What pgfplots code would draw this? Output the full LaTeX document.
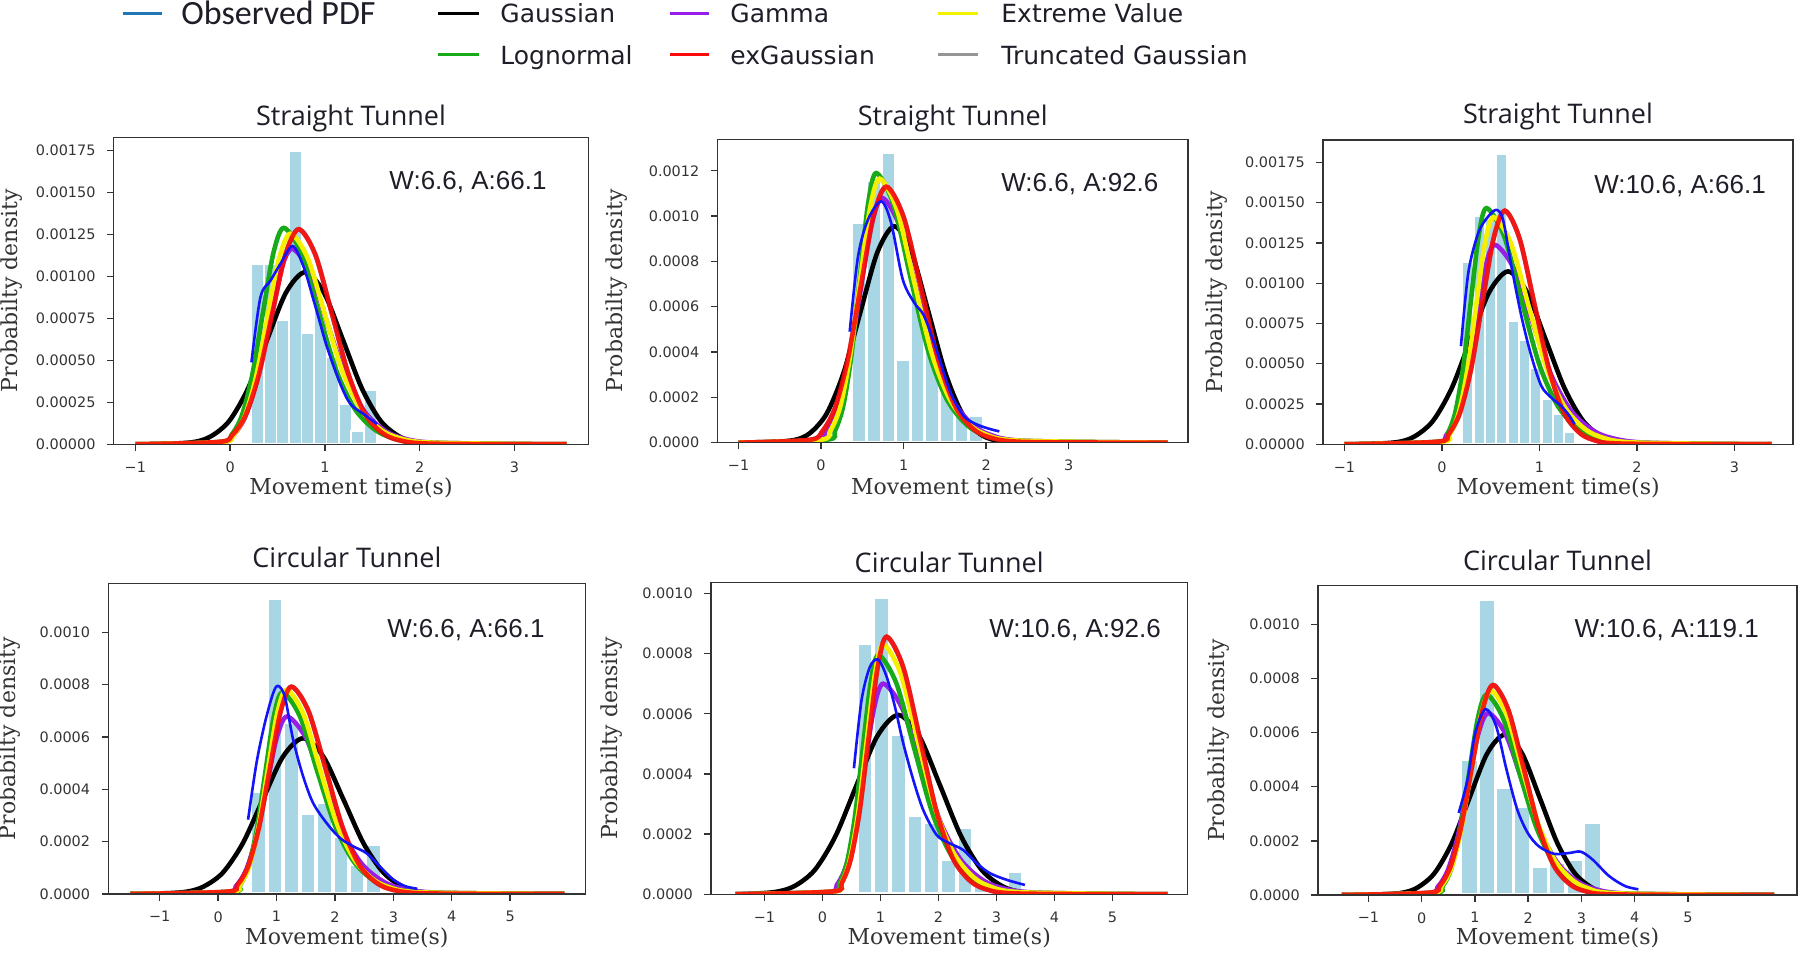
\documentclass[border=0pt]{standalone}
\usepackage{fontspec}
\setmainfont{DejaVu Sans}
\newfontfamily\serifl{DejaVu Serif}
\newfontfamily\opensans{Open Sans}
\newfontfamily\libsans{Liberation Sans}
\newfontfamily\carlito{Carlito}
\usepackage{pgfplots}
\usepackage{pgfplotstable}
\pgfplotsset{compat=1.18}

\definecolor{histblue}{RGB}{168,214,228}
\definecolor{cgreen}{RGB}{25,170,25}
\definecolor{cyellow}{RGB}{245,240,0}
\definecolor{cpurple}{RGB}{150,30,230}
\definecolor{cred}{RGB}{250,10,10}
\definecolor{cblue}{RGB}{20,20,250}
\definecolor{cgray}{RGB}{150,150,150}
\definecolor{obsblue}{RGB}{31,119,180}
\definecolor{txt}{RGB}{30,30,40}

\tikzset{annot/.style={anchor=east, inner sep=0pt, font=\libsans\fontsize{13}{15}\selectfont, text=txt}}

\pgfplotsset{
  panel/.style={
    scale only axis, axis on top, enlargelimits=false, clip=true,
    anchor=south west,
    axis line style={black!80, line width=0.7pt},
    tick style={black!80, line width=0.7pt},
    tick align=outside, major tick length=3.3pt,
    xtick pos=left, ytick pos=left,
    ticklabel style={font=\fontsize{7.2}{8.6}\selectfont, text=black!80},
    xticklabel style={yshift=-1.9pt},
    yticklabel style={xshift=-2.3pt},
    xlabel={Movement time(s)}, ylabel={Probabilty density},
    label style={font=\serifl\fontsize{11}{13}\selectfont, text=black!80},
    title style={font=\opensans\fontsize{13.5}{16}\selectfont, text=txt, anchor=center},
    ymin=0,
  },
  fblack/.style={draw=black, line width=2.3pt, smooth},
  fgreen/.style={draw=cgreen, line width=2.3pt, smooth},
  fyellow/.style={draw=cyellow, line width=2.3pt, smooth},
  fred/.style={draw=cred, line width=2.3pt, smooth, opacity=0.9},
  fpurple/.style={draw=cpurple, line width=2.3pt, smooth},
  fgray/.style={draw=cgray, line width=2.3pt, smooth},
  fblue/.style={draw=cblue, line width=1.3pt, smooth},
  hist/.style={ybar, bar shift=0pt, fill=histblue, draw=white},
}

\pgfplotstableread{
x y
-1 0
-0.116 0.0141
0.024 0.0563
0.164 0.173
0.304 0.416
0.444 0.777
0.584 1.129
0.724 1.28
0.899 1.129
1.074 0.777
1.249 0.416
1.424 0.179
1.599 0.0704
1.774 0.0256
2.124 0.0038
3.55 0
}\redA
\pgfplotstableread{
x y
-1 0
-0.141 0.0124
0.014 0.0497
0.169 0.153
0.324 0.367
0.479 0.686
0.634 0.997
0.789 1.13
0.999 0.997
1.209 0.686
1.419 0.367
1.629 0.158
1.839 0.0622
2.049 0.0226
2.469 0.0034
4.2 0
}\redB
\pgfplotstableread{
x y
-1 0
-0.045 0.016
0.07 0.0638
0.185 0.196
0.3 0.471
0.415 0.880
0.53 1.279
0.645 1.45
0.795 1.279
0.945 0.880
1.095 0.471
1.245 0.203
1.395 0.0798
1.545 0.029
1.845 0.0044
3.38 0
}\redC
\pgfplotstableread{
x y
-1.5 0
0.147 0.0087
0.332 0.0348
0.517 0.107
0.702 0.257
0.887 0.481
1.072 0.699
1.257 0.792
1.547 0.699
1.837 0.481
2.127 0.257
2.417 0.111
2.707 0.0436
2.997 0.0158
3.577 0.0024
5.93 0
}\redD
\pgfplotstableread{
x y
-1.5 0
0.177 0.0094
0.332 0.0377
0.487 0.116
0.642 0.278
0.797 0.520
0.952 0.755
1.107 0.856
1.392 0.755
1.677 0.520
1.962 0.278
2.247 0.120
2.532 0.0471
2.817 0.0171
3.387 0.0026
5.95 0
}\redE
\pgfplotstableread{
x y
-1.5 0
0.142 0.0085
0.342 0.0341
0.542 0.105
0.742 0.252
0.942 0.471
1.142 0.684
1.342 0.776
1.627 0.684
1.912 0.471
2.197 0.252
2.482 0.109
2.767 0.0427
3.052 0.0155
3.622 0.0023
6.62 0
}\redF

\begin{document}
\begin{tikzpicture}
\path[use as bounding box] (0pt,0pt) rectangle (900pt,476.5pt);

% ---------------- Panel 1 ----------------
\begin{axis}[panel, at={(56.85pt,254.35pt)}, width=237.25pt, height=153.5pt,
  xmin=-1.228, xmax=3.778, ymax=1.827,
  xtick={-1,0,1,2,3}, xticklabels={−1,0,1,2,3},
  ytick={0,0.25,0.5,0.75,1,1.25,1.5,1.75},
  yticklabels={0.00000,0.00025,0.00050,0.00075,0.00100,0.00125,0.00150,0.00175},
  title={Straight Tunnel}, title style={at={(0.5,1.078)}, yshift=-8.6pt},
  xlabel style={at={(axis description cs:0.5,-0.142)}, anchor=center},
  ylabel style={at={(axis description cs:-0.2154,0.5)}, anchor=center}]
\addplot[hist, bar width=0.1318, line width=0.85pt] coordinates {(0.291,1.074) (0.423,1.074) (0.555,0.736) (0.686,1.743) (0.818,0.66) (0.950,0.82) (1.082,0.52) (1.214,0.24) (1.345,0.08) (1.477,0.323)};
\addplot[fgray] table {\redA};
\addplot[fblack] coordinates {(-1,0) (-0.81,0.0003) (-0.41,0.0113) (-0.21,0.045) (-0.01,0.138) (0.19,0.333) (0.39,0.622) (0.59,0.903) (0.79,1.024) (0.99,0.903) (1.19,0.622) (1.39,0.333) (1.59,0.138) (1.79,0.045) (1.99,0.0113) (2.39,0.0003) (3.55,0)};
\addplot[fpurple] coordinates {(-1,0) (-0.096,0.0128) (0.029,0.0512) (0.154,0.157) (0.279,0.378) (0.404,0.706) (0.529,1.026) (0.654,1.163) (0.844,1.026) (1.034,0.706) (1.224,0.395) (1.414,0.198) (1.604,0.093) (1.794,0.0407) (2.174,0.0093) (3.55,0)};
\addplot[fgreen] coordinates {(-1,0) (-0.094,0.0142) (0.016,0.0567) (0.126,0.174) (0.236,0.419) (0.346,0.782) (0.456,1.136) (0.566,1.288) (0.751,1.136) (0.936,0.782) (1.121,0.438) (1.306,0.219) (1.491,0.103) (1.676,0.0451) (2.046,0.0103) (3.55,0)};
\addplot[fyellow] coordinates {(-1,0) (-0.084,0.0138) (0.036,0.0551) (0.156,0.169) (0.276,0.407) (0.396,0.761) (0.516,1.105) (0.636,1.253) (0.821,1.105) (1.006,0.761) (1.191,0.426) (1.376,0.213) (1.561,0.100) (1.746,0.0439) (2.116,0.0100) (3.55,0)};
\addplot[fred] table {\redA};
\addplot[fblue] coordinates {(0.225,0.4875) (0.32,0.875) (0.426,0.974) (0.531,1.074) (0.66,1.18) (0.777,1.054) (0.882,0.855) (0.95,0.72) (1.023,0.577) (1.163,0.359) (1.269,0.24) (1.409,0.18) (1.55,0.12)};
\node[annot] at (rel axis cs:0.913,0.855) {W:6.6, A:66.1};
\end{axis}

% ---------------- Panel 2 ----------------
\begin{axis}[panel, at={(358.75pt,255.15pt)}, width=235.25pt, height=151.7pt,
  xmin=-1.255, xmax=4.446, ymax=1.339,
  xtick={-1,0,1,2,3}, xticklabels={−1,0,1,2,3},
  ytick={0,0.2,0.4,0.6,0.8,1.0,1.2},
  yticklabels={0.0000,0.0002,0.0004,0.0006,0.0008,0.0010,0.0012},
  title={Straight Tunnel}, title style={at={(0.5,1.086)}, yshift=-8.6pt},
  xlabel style={at={(axis description cs:0.5,-0.150)}, anchor=center},
  ylabel style={at={(axis description cs:-0.2136,0.5)}, anchor=center}]
\addplot[hist, bar width=0.1767, line width=1.5pt] coordinates {(0.463,0.972) (0.640,1.157) (0.817,1.281) (0.993,0.367) (1.170,0.669) (1.347,0.44) (1.524,0.25) (1.700,0.12) (1.877,0.12)};
\addplot[fgray] table {\redB};
\addplot[fblack] coordinates {(-1,0) (-0.751,0.0003) (-0.341,0.0105) (-0.136,0.042) (0.069,0.129) (0.274,0.310) (0.479,0.580) (0.684,0.842) (0.889,0.955) (1.094,0.842) (1.299,0.580) (1.504,0.310) (1.709,0.129) (1.914,0.042) (2.119,0.0105) (2.529,0.0003) (4.2,0)};
\addplot[fpurple] coordinates {(-1,0) (-0.07,0.0119) (0.065,0.0475) (0.2,0.146) (0.335,0.351) (0.47,0.656) (0.605,0.953) (0.74,1.08) (0.955,0.953) (1.17,0.656) (1.385,0.367) (1.6,0.184) (1.815,0.0864) (2.03,0.0378) (2.46,0.0086) (4.2,0)};
\addplot[fgreen] coordinates {(-1,0) (0.068,0.0131) (0.168,0.0524) (0.268,0.161) (0.368,0.387) (0.468,0.722) (0.568,1.050) (0.668,1.19) (0.878,1.050) (1.088,0.722) (1.298,0.405) (1.508,0.202) (1.718,0.0952) (1.928,0.0417) (2.348,0.0095) (4.2,0)};
\addplot[fyellow] coordinates {(-1,0) (-0.01,0.0128) (0.11,0.0513) (0.23,0.157) (0.35,0.379) (0.47,0.707) (0.59,1.028) (0.71,1.165) (0.92,1.028) (1.13,0.707) (1.34,0.396) (1.55,0.198) (1.76,0.0932) (1.97,0.0408) (2.39,0.0093) (4.2,0)};
\addplot[fred] table {\redB};
\addplot[fblue] coordinates {(0.347,0.49) (0.447,0.82) (0.568,0.984) (0.729,1.065) (0.849,0.97) (0.99,0.72) (1.13,0.617) (1.25,0.558) (1.41,0.397) (1.57,0.22) (1.73,0.117) (1.89,0.08) (2.05,0.06) (2.16,0.05)};
\node[annot] at (rel axis cs:0.938,0.853) {W:6.6, A:92.6};
\end{axis}

% ---------------- Panel 3 ----------------
\begin{axis}[panel, at={(661.5pt,254.35pt)}, width=235pt, height=152.15pt,
  xmin=-1.219, xmax=3.599, ymax=1.889,
  xtick={-1,0,1,2,3}, xticklabels={−1,0,1,2,3},
  ytick={0,0.25,0.5,0.75,1,1.25,1.5,1.75},
  yticklabels={0.00000,0.00025,0.00050,0.00075,0.00100,0.00125,0.00150,0.00175},
  title={Straight Tunnel}, title style={at={(0.5,1.093)}, yshift=-8.6pt},
  xlabel style={at={(axis description cs:0.5,-0.1446)}, anchor=center},
  ylabel style={at={(axis description cs:-0.2255,0.5)}, anchor=center}]
\addplot[hist, bar width=0.1158, line width=1.15pt] coordinates {(0.267,1.135) (0.383,1.418) (0.499,1.40) (0.614,1.806) (0.730,0.764) (0.846,0.65) (0.962,0.475) (1.078,0.283) (1.193,0.186) (1.309,0.08)};
\addplot[fgray] table {\redC};
\addplot[fblack] coordinates {(-1,0) (-0.862,0.0003) (-0.477,0.0118) (-0.285,0.0472) (-0.092,0.145) (0.101,0.349) (0.293,0.651) (0.486,0.946) (0.678,1.073) (0.871,0.946) (1.063,0.651) (1.256,0.349) (1.448,0.145) (1.641,0.0472) (1.833,0.0118) (2.218,0.0003) (3.38,0)};
\addplot[fpurple] coordinates {(-1,0) (-0.058,0.0136) (0.042,0.0545) (0.142,0.167) (0.242,0.402) (0.342,0.751) (0.442,1.092) (0.542,1.238) (0.737,1.092) (0.932,0.751) (1.127,0.421) (1.322,0.210) (1.517,0.099) (1.712,0.0433) (2.102,0.0099) (3.38,0)};
\addplot[fgreen] coordinates {(-1,0) (-0.023,0.0161) (0.057,0.0645) (0.137,0.198) (0.217,0.476) (0.297,0.890) (0.377,1.293) (0.457,1.466) (0.637,1.293) (0.817,0.890) (0.997,0.498) (1.177,0.249) (1.357,0.117) (1.537,0.0513) (1.897,0.0117) (3.38,0)};
\addplot[fyellow] coordinates {(-1,0) (-0.01,0.0155) (0.08,0.062) (0.17,0.190) (0.26,0.458) (0.35,0.856) (0.44,1.244) (0.53,1.41) (0.71,1.244) (0.89,0.856) (1.07,0.479) (1.25,0.240) (1.43,0.113) (1.61,0.0494) (1.97,0.0113) (3.38,0)};
\addplot[fred] table {\redC};
\addplot[fblue] coordinates {(0.195,0.609) (0.27,1.063) (0.372,1.311) (0.474,1.414) (0.56,1.455) (0.627,1.393) (0.713,1.104) (0.815,0.794) (0.917,0.547) (1.02,0.361) (1.122,0.289) (1.224,0.237) (1.309,0.175) (1.36,0.124)};
\node[annot] at (rel axis cs:0.943,0.849) {W:10.6, A:66.1};
\end{axis}

% ---------------- Panel 4 ----------------
\begin{axis}[panel, at={(54.15pt,29.5pt)}, width=238.6pt, height=155.35pt,
  xmin=-1.88, xmax=6.29, ymax=1.187,
  xtick={-1,0,1,2,3,4,5}, xticklabels={−1,0,1,2,3,4,5},
  ytick={0,0.2,0.4,0.6,0.8,1.0},
  yticklabels={0.0000,0.0002,0.0004,0.0006,0.0008,0.0010},
  title={Circular Tunnel}, title style={at={(0.5,1.091)}, yshift=-7pt},
  xlabel style={at={(axis description cs:0.5,-0.1426)}, anchor=center},
  ylabel style={at={(axis description cs:-0.2068,0.5)}, anchor=center}]
\addplot[hist, bar width=0.281, line width=2pt] coordinates {(0.695,0.392) (0.976,1.13) (1.257,0.659) (1.537,0.311) (1.818,0.353) (2.099,0.22) (2.380,0.116) (2.661,0.192)};
\addplot[fgray] table {\redD};
\addplot[fblack] coordinates {(-1.5,0) (-1.304,0.0002) (-0.614,0.0065) (-0.269,0.0262) (0.076,0.0803) (0.421,0.193) (0.766,0.361) (1.111,0.525) (1.456,0.595) (1.801,0.525) (2.146,0.361) (2.491,0.193) (2.836,0.0803) (3.181,0.0262) (3.526,0.0065) (4.216,0.0002) (5.93,0)};
\addplot[fpurple] coordinates {(-1.5,0) (0.13,0.0075) (0.305,0.0298) (0.48,0.0915) (0.655,0.220) (0.83,0.412) (1.005,0.598) (1.18,0.678) (1.5,0.598) (1.82,0.412) (2.14,0.231) (2.46,0.115) (2.78,0.0542) (3.1,0.0237) (3.74,0.0054) (5.93,0)};
\addplot[fgreen] coordinates {(-1.5,0) (0.23,0.0085) (0.375,0.0339) (0.52,0.104) (0.665,0.250) (0.81,0.467) (0.955,0.679) (1.1,0.77) (1.4,0.679) (1.7,0.467) (2.0,0.262) (2.3,0.131) (2.6,0.0616) (2.9,0.027) (3.5,0.0062) (5.93,0)};
\addplot[fyellow] coordinates {(-1.5,0) (0.21,0.0086) (0.37,0.0343) (0.53,0.105) (0.69,0.254) (0.85,0.473) (1.01,0.688) (1.17,0.78) (1.46,0.688) (1.75,0.473) (2.04,0.265) (2.33,0.133) (2.62,0.0624) (2.91,0.0273) (3.49,0.0062) (5.93,0)};
\addplot[fred] table {\redD};
\addplot[fblue] coordinates {(0.513,0.284) (0.657,0.5) (0.8,0.653) (0.942,0.767) (1.027,0.795) (1.142,0.754) (1.285,0.589) (1.456,0.449) (1.628,0.347) (1.857,0.271) (2.086,0.214) (2.314,0.182) (2.54,0.156) (2.77,0.105) (3.0,0.055) (3.2,0.03) (3.41,0.02)};
\node[annot] at (rel axis cs:0.915,0.85) {W:6.6, A:66.1};
\end{axis}

% ---------------- Panel 5 ----------------
\begin{axis}[panel, at={(355.5pt,29.35pt)}, width=238.2pt, height=156pt,
  xmin=-1.92, xmax=6.29, ymax=1.037,
  xtick={-1,0,1,2,3,4,5}, xticklabels={−1,0,1,2,3,4,5},
  ytick={0,0.2,0.4,0.6,0.8,1.0},
  yticklabels={0.0000,0.0002,0.0004,0.0006,0.0008,0.0010},
  title={Circular Tunnel}, title style={at={(0.5,1.071)}, yshift=-7pt},
  xlabel style={at={(axis description cs:0.5,-0.141)}, anchor=center},
  ylabel style={at={(axis description cs:-0.2089,0.5)}, anchor=center}]
\addplot[hist, bar width=0.287, line width=2pt] coordinates {(0.734,0.836) (1.021,0.987) (1.308,0.533) (1.594,0.262) (1.881,0.24) (2.168,0.116) (2.455,0.225) (2.742,0.04) (3.317,0.078)};
\addplot[fgray] table {\redE};
\addplot[fblack] coordinates {(-1.5,0) (-0.853,0.0066) (-0.493,0.0262) (-0.133,0.0805) (0.227,0.194) (0.587,0.362) (0.947,0.526) (1.307,0.596) (1.667,0.526) (2.027,0.362) (2.387,0.194) (2.747,0.0805) (3.107,0.0262) (3.467,0.0066) (4.187,0.0002) (5.95,0)};
\addplot[fpurple] coordinates {(-1.5,0) (0.088,0.0077) (0.248,0.0308) (0.408,0.0945) (0.568,0.228) (0.728,0.425) (0.888,0.617) (1.048,0.70) (1.378,0.617) (1.708,0.425) (2.038,0.238) (2.368,0.119) (2.698,0.056) (3.028,0.0245) (3.688,0.0056) (5.95,0)};
\addplot[fgreen] coordinates {(-1.5,0) (0.155,0.0087) (0.29,0.035) (0.425,0.107) (0.56,0.258) (0.695,0.483) (0.83,0.701) (0.965,0.795) (1.275,0.701) (1.585,0.483) (1.895,0.270) (2.205,0.135) (2.515,0.0636) (2.825,0.0278) (3.445,0.0064) (5.95,0)};
\addplot[fyellow] coordinates {(-1.5,0) (0.18,0.0091) (0.325,0.0365) (0.47,0.112) (0.615,0.270) (0.76,0.504) (0.905,0.732) (1.05,0.83) (1.35,0.732) (1.65,0.504) (1.95,0.282) (2.25,0.141) (2.55,0.0664) (2.85,0.029) (3.45,0.0066) (5.95,0)};
\addplot[fred] table {\redE};
\addplot[fblue] coordinates {(0.543,0.419) (0.675,0.646) (0.819,0.756) (0.962,0.78) (1.107,0.723) (1.25,0.623) (1.393,0.502) (1.566,0.38) (1.738,0.28) (1.969,0.197) (2.198,0.169) (2.428,0.147) (2.659,0.103) (2.888,0.07) (3.176,0.048) (3.49,0.031)};
\node[annot] at (rel axis cs:0.945,0.847) {W:10.6, A:92.6};
\end{axis}

% ---------------- Panel 6 ----------------
\begin{axis}[panel, at={(659pt,29pt)}, width=239.5pt, height=154.65pt,
  xmin=-1.947, xmax=7.05, ymax=1.143,
  xtick={-1,0,1,2,3,4,5}, xticklabels={−1,0,1,2,3,4,5},
  ytick={0,0.2,0.4,0.6,0.8,1.0},
  yticklabels={0.0000,0.0002,0.0004,0.0006,0.0008,0.0010},
  title={Circular Tunnel}, title style={at={(0.5,1.089)}, yshift=-7pt},
  xlabel style={at={(axis description cs:0.5,-0.14)}, anchor=center},
  ylabel style={at={(axis description cs:-0.2067,0.5)}, anchor=center}]
\addplot[hist, bar width=0.33, line width=1.6pt] coordinates {(0.897,0.5) (1.227,1.092) (1.557,0.399) (1.887,0.328) (2.217,0.104) (2.547,0.12) (2.877,0.13) (3.207,0.267)};
\addplot[fgray] table {\redF};
\addplot[fblack] coordinates {(-1.5,0) (-1.082,0.0002) (-0.422,0.0065) (-0.092,0.026) (0.238,0.0799) (0.568,0.192) (0.898,0.359) (1.228,0.522) (1.558,0.592) (1.888,0.522) (2.218,0.359) (2.548,0.192) (2.878,0.0799) (3.208,0.026) (3.538,0.0065) (4.198,0.0002) (6.62,0)};
\addplot[fpurple] coordinates {(-1.5,0) (0.11,0.0074) (0.3,0.0296) (0.49,0.0907) (0.68,0.218) (0.87,0.408) (1.06,0.593) (1.25,0.672) (1.58,0.593) (1.91,0.408) (2.24,0.228) (2.57,0.114) (2.9,0.0538) (3.23,0.0235) (3.89,0.0054) (6.62,0)};
\addplot[fgreen] coordinates {(-1.5,0) (0.23,0.0081) (0.395,0.0326) (0.56,0.0999) (0.725,0.241) (0.89,0.449) (1.055,0.653) (1.22,0.74) (1.53,0.653) (1.84,0.449) (2.15,0.252) (2.46,0.126) (2.77,0.0592) (3.08,0.0259) (3.7,0.0059) (6.62,0)};
\addplot[fyellow] coordinates {(-1.5,0) (0.19,0.0083) (0.375,0.0332) (0.56,0.102) (0.745,0.245) (0.93,0.458) (1.115,0.666) (1.3,0.755) (1.6,0.666) (1.9,0.458) (2.2,0.257) (2.5,0.128) (2.8,0.0604) (3.1,0.0264) (3.7,0.006) (6.62,0)};
\addplot[fred] table {\redF};
\addplot[fblue] coordinates {(0.696,0.303) (0.861,0.426) (1.005,0.598) (1.2,0.687) (1.4,0.623) (1.594,0.463) (1.795,0.316) (1.99,0.23) (2.2,0.18) (2.49,0.152) (2.8,0.156) (2.99,0.16) (3.21,0.131) (3.52,0.07) (3.82,0.033) (4.07,0.021)};
\node[annot] at (rel axis cs:0.921,0.857) {W:10.6, A:119.1};
\end{axis}

% ---------------- Legend ----------------
\begin{scope}[every node/.style={anchor=base west, inner sep=0pt, text=txt, font=\fontsize{12.5}{15}\selectfont}]
\draw[obsblue, line width=1.5pt] (61.5pt,469.85pt) -- (81pt,469.85pt);
\node[font=\carlito\fontsize{17}{20}\selectfont] at (90.5pt,464.35pt) {Observed PDF};
\draw[black, line width=1.5pt] (219pt,469.85pt) -- (239.5pt,469.85pt);
\node at (250pt,465.3pt) {Gaussian};
\draw[cpurple, line width=1.5pt] (335pt,469.85pt) -- (354.5pt,469.85pt);
\node at (365pt,465.3pt) {Gamma};
\draw[cyellow, line width=1.5pt] (469pt,469.85pt) -- (489pt,469.85pt);
\node at (500.5pt,465.3pt) {Extreme Value};
\draw[cgreen, line width=1.5pt] (219pt,449pt) -- (239.5pt,449pt);
\node at (250pt,444.45pt) {Lognormal};
\draw[cred, line width=1.5pt] (335pt,449pt) -- (354.5pt,449pt);
\node at (365pt,444.45pt) {exGaussian};
\draw[cgray, line width=1.5pt] (469pt,449pt) -- (489pt,449pt);
\node at (500.5pt,444.45pt) {Truncated Gaussian};
\end{scope}
\end{tikzpicture}
\end{document}
